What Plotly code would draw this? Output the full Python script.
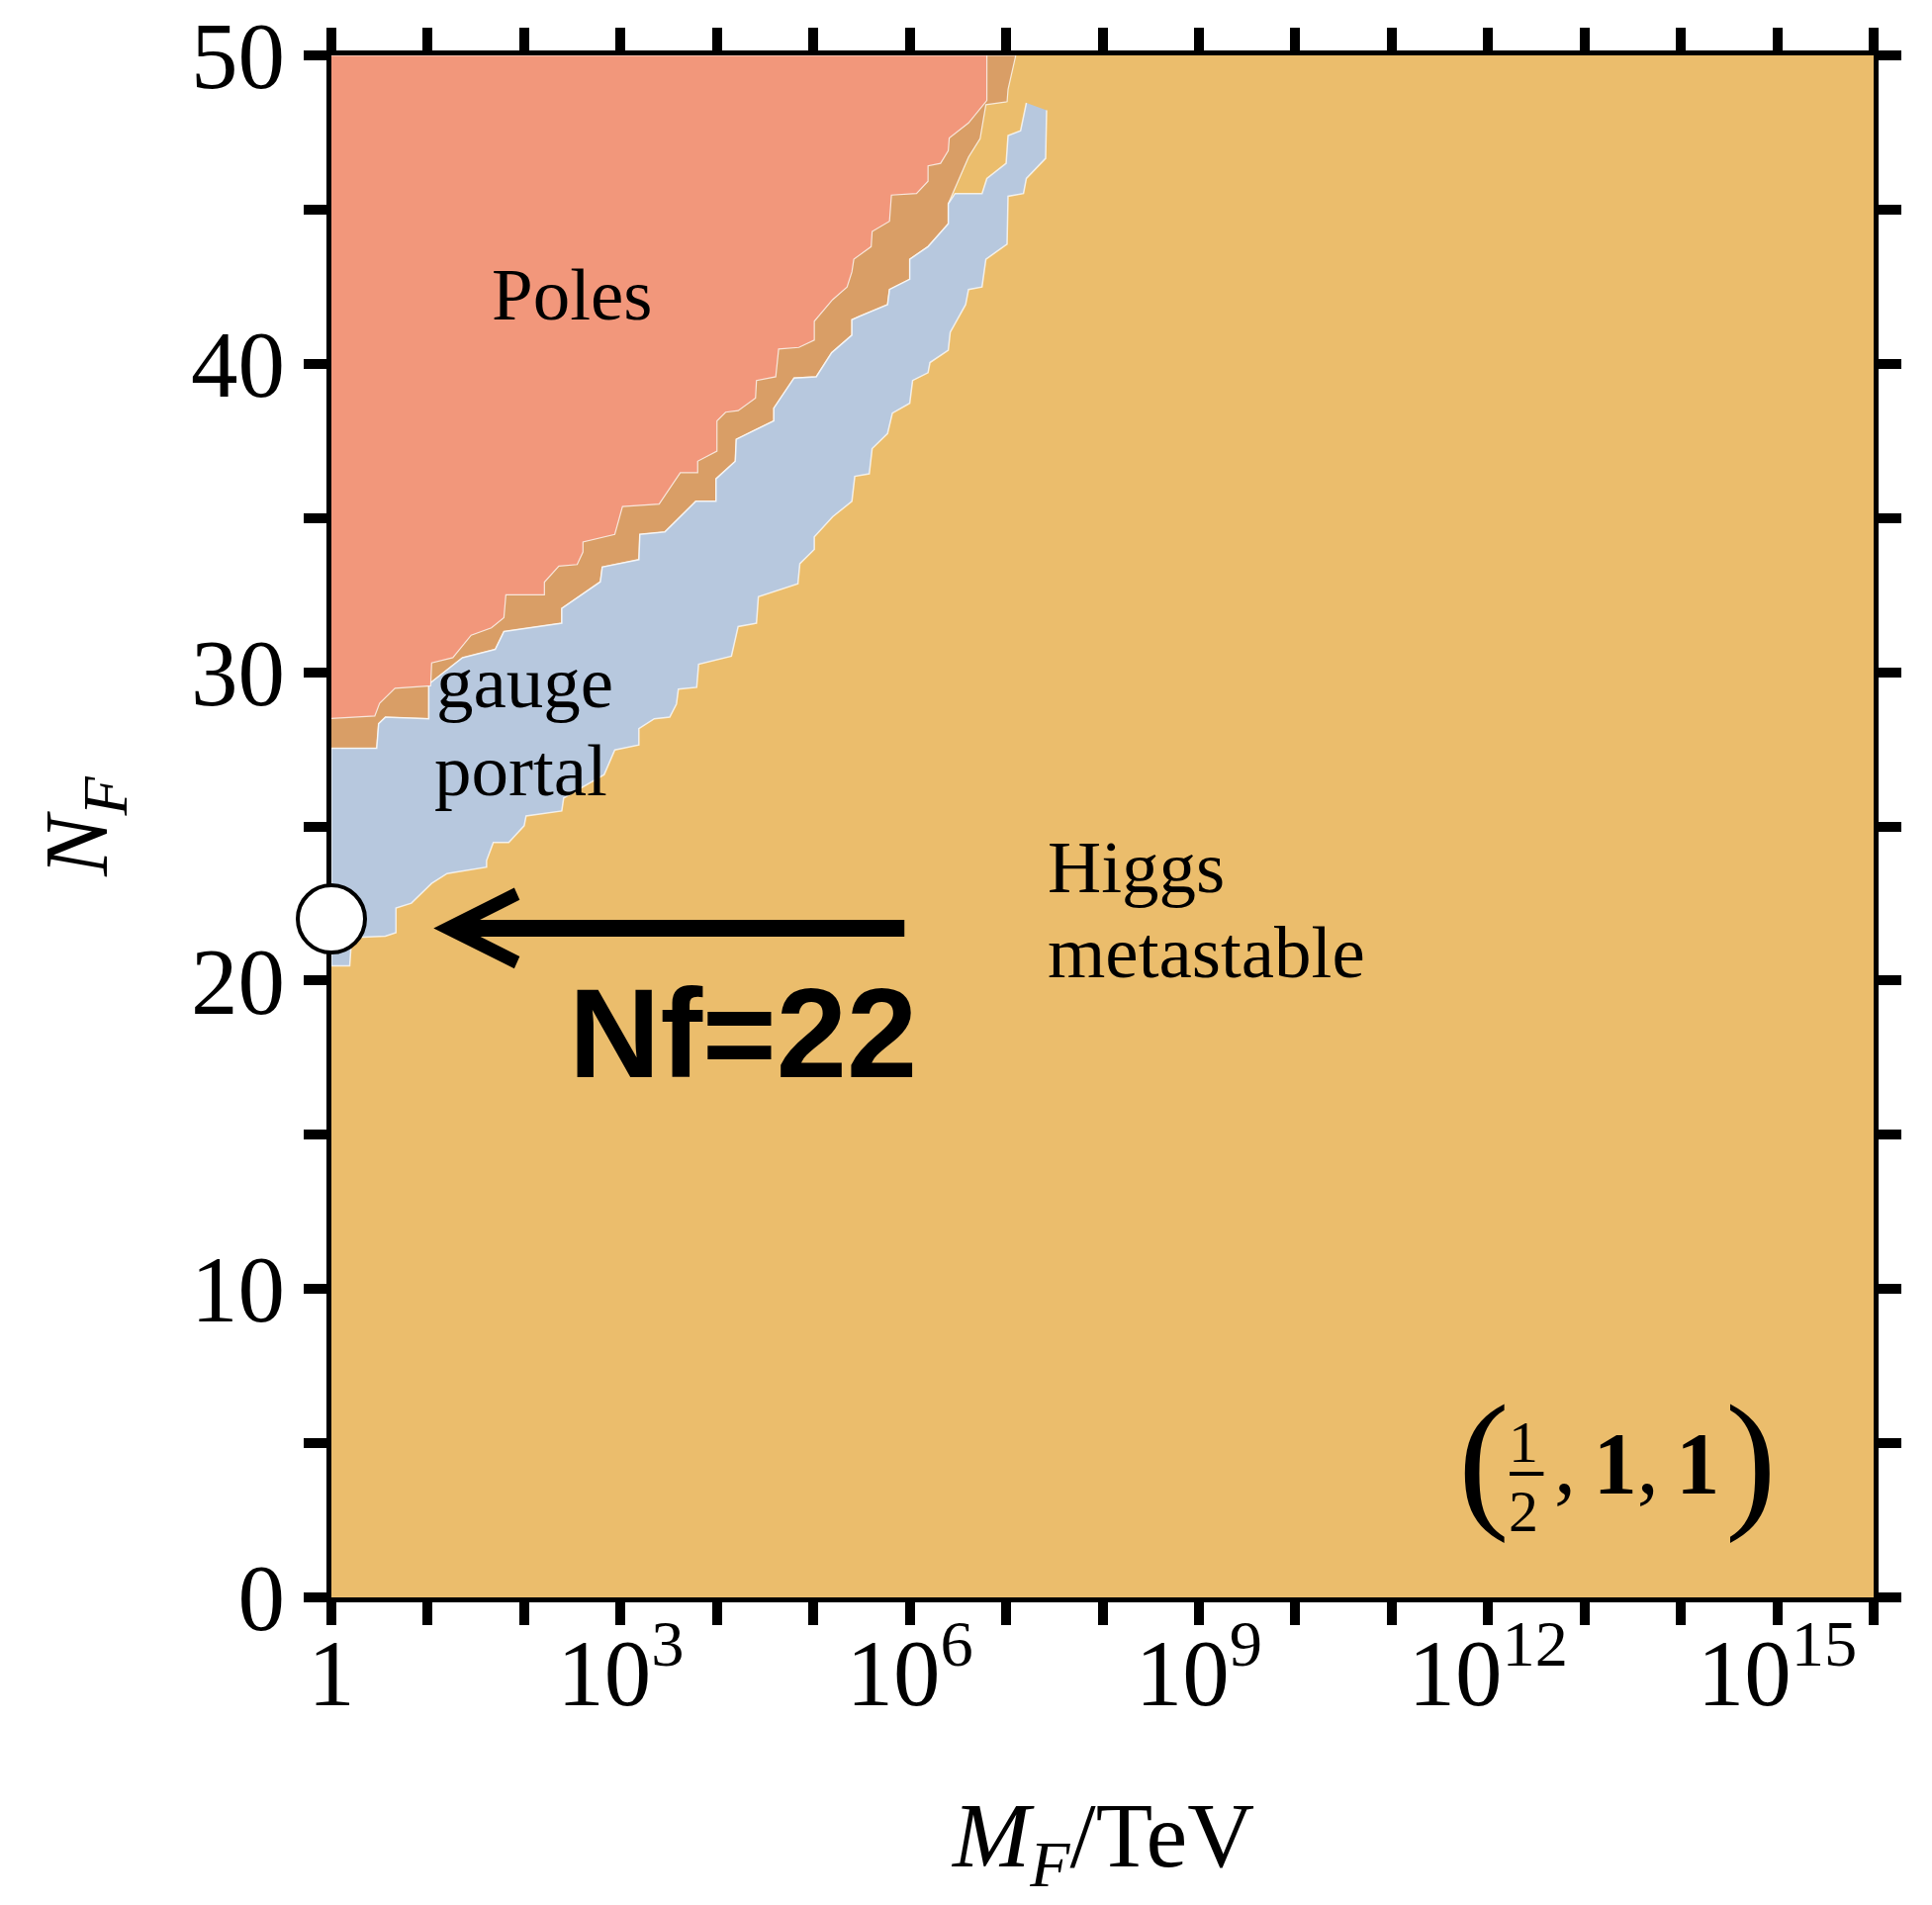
import plotly.graph_objects as go

# ---------------- axes ----------------
X_RANGE_LOG = [0, 16]          # log10(M_F / TeV)
Y_RANGE = [0, 50]              # N_F

x_label_exponents = [0, 3, 6, 9, 12, 15]
x_tick_labels = ["1", "10<sup>3</sup>", "10<sup>6</sup>", "10<sup>9</sup>",
                 "10<sup>12</sup>", "10<sup>15</sup>"]
x_minor_exponents = [1, 2, 4, 5, 7, 8, 10, 11, 13, 14, 16]
y_label_values = [0, 10, 20, 30, 40, 50]
y_tick_labels = ["0", "10", "20", "30", "40", "50"]
y_minor_values = [5, 15, 25, 35, 45]
x_title = "<i>M</i><sub><i>F</i></sub>/TeV"
y_title = "<i>N</i><sub><i>F</i></sub>"

# ---------------- region boundaries (log10 M_F/TeV , N_F) ----------------
# "Poles": lower edge of the pole region, from the top edge down to the left edge
poles_logM = [6.80, 6.80, 6.61, 6.41, 6.40, 6.32, 6.19, 6.19, 6.07, 5.81, 5.79, 5.61, 5.60,
              5.42, 5.40, 5.35, 5.20, 5.01, 5.01, 4.85, 4.64, 4.61, 4.41, 4.40, 4.22, 4.09,
              4.00, 4.00, 3.80, 3.80, 3.62, 3.40, 3.02, 2.94, 2.61, 2.61, 2.55, 2.36, 2.21,
              2.21, 1.81, 1.79, 1.66, 1.45, 1.26, 1.04, 1.03, 0.66, 0.50, 0.45, 0.00]
poles_N = [50.0, 48.54, 47.81, 47.32, 46.91, 46.50, 46.42, 45.92, 45.52, 45.47, 44.62, 44.29,
           43.80, 43.39, 42.98, 42.49, 42.08, 41.38, 40.77, 40.53, 40.48, 39.58, 39.46, 38.89,
           38.48, 38.43, 38.15, 37.17, 36.84, 36.47, 36.47, 35.45, 35.37, 34.47, 34.22, 33.90,
           33.49, 33.44, 32.92, 32.51, 32.51, 31.77, 31.44, 31.20, 30.47, 30.30, 29.56, 29.48,
           28.99, 28.58, 28.50]

# overlap band (poles + gauge portal): its lower edge, top edge -> left edge
band_logM = [7.10, 7.02, 7.01, 6.79, 6.73, 6.61, 6.40, 6.40, 6.19, 6.00, 6.00, 5.79, 5.77,
             5.48, 5.40, 5.40, 5.19, 5.03, 4.80, 4.59, 4.59, 4.20, 4.19, 3.99, 3.99, 3.78,
             3.46, 3.20, 3.19, 2.81, 2.79, 2.39, 2.39, 1.79, 1.70, 1.36, 1.01, 1.01, 0.56,
             0.49, 0.47, 0.00]
band_N = [50.0, 48.9, 48.5, 48.4, 47.3, 46.7, 45.19, 44.54, 43.80, 43.39, 42.74, 42.41, 41.92,
          41.54, 41.43, 40.93, 40.36, 39.58, 39.54, 38.56, 38.15, 37.55, 36.84, 36.27, 35.54,
          35.54, 34.55, 34.47, 33.65, 33.41, 32.93, 32.07, 31.59, 31.32, 30.74, 30.47, 29.61,
          28.49, 28.54, 28.33, 27.53, 27.53]

# "gauge portal": upper edge (top -> left) and lower edge (left -> top)
gauge_upper_logM = [7.21, 7.15, 7.02, 7.00, 6.80, 6.75, 6.47, 6.40, 6.40, 6.19, 6.00, 6.00,
                    5.79, 5.77, 5.48, 5.40, 5.40, 5.19, 5.03, 4.80, 4.59, 4.59, 4.20, 4.19,
                    3.99, 3.99, 3.78, 3.46, 3.20, 3.19, 2.81, 2.79, 2.39, 2.39, 1.79, 1.70,
                    1.36, 1.01, 1.01, 0.56, 0.49, 0.47, 0.00]
gauge_upper_N = [48.46, 47.56, 47.40, 46.50, 46.01, 45.52, 45.52, 45.19, 44.54, 43.80, 43.39,
                 42.74, 42.41, 41.92, 41.54, 41.43, 40.93, 40.36, 39.58, 39.54, 38.56, 38.15,
                 37.55, 36.84, 36.27, 35.54, 35.54, 34.55, 34.47, 33.65, 33.41, 32.93, 32.07,
                 31.59, 31.32, 30.74, 30.47, 29.61, 28.49, 28.54, 28.33, 27.53, 27.53]
gauge_lower_logM = [0.00, 0.19, 0.21, 0.56, 0.67, 0.67, 0.83, 1.04, 1.20, 1.29, 1.61, 1.61,
                    1.68, 1.84, 2.00, 2.02, 2.39, 2.41, 2.83, 2.94, 3.19, 3.19, 3.35, 3.51,
                    3.58, 3.60, 3.79, 3.81, 4.15, 4.22, 4.41, 4.43, 4.84, 4.86, 5.01, 5.01,
                    5.20, 5.40, 5.43, 5.58, 5.61, 5.77, 5.82, 6.00, 6.03, 6.19, 6.21, 6.40,
                    6.42, 6.58, 6.61, 6.75, 6.79, 7.01, 7.02, 7.18, 7.21, 7.41, 7.42]
gauge_lower_N = [20.48, 20.48, 21.39, 21.44, 21.55, 22.35, 22.51, 23.15, 23.47, 23.52, 23.68,
                 23.89, 24.48, 24.48, 25.02, 25.34, 25.50, 25.92, 26.68, 27.48, 27.64, 28.17,
                 28.49, 28.54, 28.97, 29.45, 29.51, 30.26, 30.52, 31.48, 31.59, 32.45, 32.87,
                 33.52, 33.98, 34.39, 35.04, 35.54, 36.35, 36.43, 37.25, 37.74, 38.40, 38.72,
                 39.46, 39.71, 40.04, 40.44, 41.02, 41.92, 42.41, 42.49, 43.39, 43.88, 45.43,
                 45.52, 46.01, 46.66, 48.22]

# highlighted benchmark
highlight_M = 1.0
highlight_Nf = 22
arrow_tip_logM = 1.06
arrow_tail_logM = 5.96
arrow_N = 21.7

# ---------------- colours ----------------
C_HIGGS = "#EBBD6C"
C_POLES = "#F2977B"
C_GAUGE = "#B7C8DE"
C_BAND = "#D99E66"
EDGE = "rgba(255,255,255,0.75)"

SERIF = "Liberation Serif"
SANS = "Liberation Sans"


def to_M(logs):
    return [10 ** v for v in logs]


fig = go.Figure()

# overlap band (drawn first, partly covered by poles and gauge portal)
fig.add_trace(go.Scatter(
    x=to_M([X_RANGE_LOG[0]] + band_logM), y=[Y_RANGE[1]] + band_N,
    fill="toself", fillcolor=C_BAND, mode="lines",
    line=dict(color=EDGE, width=1.2), hoverinfo="skip", showlegend=False))

# gauge portal
fig.add_trace(go.Scatter(
    x=to_M(gauge_upper_logM + gauge_lower_logM), y=gauge_upper_N + gauge_lower_N,
    fill="toself", fillcolor=C_GAUGE, mode="lines",
    line=dict(color=EDGE, width=1.5), hoverinfo="skip", showlegend=False))

# poles
fig.add_trace(go.Scatter(
    x=to_M([X_RANGE_LOG[0]] + poles_logM), y=[Y_RANGE[1]] + poles_N,
    fill="toself", fillcolor=C_POLES, mode="lines",
    line=dict(color=EDGE, width=1.2), hoverinfo="skip", showlegend=False))

# benchmark point
fig.add_trace(go.Scatter(
    x=[highlight_M], y=[highlight_Nf], mode="markers",
    marker=dict(size=68, color="white", line=dict(color="black", width=4)),
    cliponaxis=False, hoverinfo="skip", showlegend=False))

TL, TW = 23, 10
tick_font = dict(family=SERIF, size=95, color="black")
common_x = dict(type="log", range=X_RANGE_LOG, tickmode="array",
                tickvals=[10 ** k for k in x_label_exponents],
                ticklen=TL, tickwidth=TW, tickcolor="black",
                minor=dict(tickmode="array", tickvals=[10 ** k for k in x_minor_exponents],
                           ticklen=TL, tickwidth=TW, tickcolor="black", showgrid=False),
                showgrid=False, zeroline=False, automargin=False)
common_y = dict(range=Y_RANGE, tickmode="array", tickvals=y_label_values,
                ticklen=TL, tickwidth=TW, tickcolor="black",
                minor=dict(tickmode="array", tickvals=y_minor_values,
                           ticklen=TL, tickwidth=TW, tickcolor="black", showgrid=False),
                showgrid=False, zeroline=False, automargin=False)

fig.update_layout(
    width=1953, height=1926,
    margin=dict(l=335, r=59, t=56, b=311),
    paper_bgcolor="white", plot_bgcolor=C_HIGGS,
    showlegend=False,
    xaxis=dict(**common_x, ticktext=x_tick_labels, ticks="outside", mirror="ticks",
               showline=True, linewidth=5, linecolor="black", layer="below traces",
               tickfont=tick_font, ticklabelstandoff=-33),
    yaxis=dict(**common_y, ticktext=y_tick_labels, ticks="outside", mirror="ticks",
               showline=True, linewidth=5, linecolor="black", layer="below traces",
               tickfont=tick_font, ticklabelstandoff=0,
               title=dict(text=y_title,
                          font=dict(family=SERIF, size=92, color="black"), standoff=55)),
    xaxis2=dict(**common_x, overlaying="x", anchor="y2", side="bottom", ticks="inside",
                mirror="ticks", showline=False, showticklabels=False, layer="above traces"),
    yaxis2=dict(**common_y, overlaying="y", anchor="x2", side="left", ticks="inside",
                mirror="ticks", showline=False, showticklabels=False, layer="above traces"),
)
fig.update_layout(xaxis2_minor_ticks="inside", yaxis2_minor_ticks="inside",
                  xaxis_minor_ticks="outside", yaxis_minor_ticks="outside")

# x-axis title (placed as an annotation so it can sit low in the bottom margin)
fig.add_annotation(xref="paper", yref="paper", x=0.5, y=-0.1195, text=x_title,
                   showarrow=False, xanchor="center", yanchor="top",
                   font=dict(family=SERIF, size=94, color="black"))

label_font = dict(family=SERIF, size=75, color="black")
annotations = [
    dict(x=2.494, y=42.24, text="Poles", xanchor="center"),
    dict(x=1.07, y=29.67, text="gauge", xanchor="left"),
    dict(x=1.05, y=26.84, text="portal", xanchor="left"),
    dict(x=7.41, y=23.67, text="Higgs", xanchor="left"),
    dict(x=7.41, y=20.94, text="metastable", xanchor="left"),
]
for a in annotations:
    fig.add_annotation(xref="x", yref="y", yanchor="middle", showarrow=False,
                       font=label_font, **a)

# arrow pointing at the benchmark
fig.add_annotation(xref="x", yref="y", axref="x", ayref="y",
                   x=arrow_tip_logM, y=arrow_N, ax=arrow_tail_logM, ay=arrow_N,
                   text="", showarrow=True, arrowhead=5, arrowwidth=17,
                   arrowsize=0.8, arrowcolor="black")
fig.add_annotation(xref="x", yref="y", x=4.27, y=18.31, text="<b>Nf=22</b>",
                   showarrow=False, xanchor="center", yanchor="middle",
                   font=dict(family=SANS, size=128, color="black"))

# representation label (1/2, 1, 1)
fig.add_annotation(xref="x", yref="y", x=11.96, y=4.49, text="(", showarrow=False,
                   xanchor="center", yanchor="middle",
                   font=dict(family=SERIF, size=155, color="black"))
fig.add_annotation(xref="x", yref="y", x=14.73, y=4.49, text=")", showarrow=False,
                   xanchor="center", yanchor="middle",
                   font=dict(family=SERIF, size=155, color="black"))
fig.add_annotation(xref="x", yref="y", x=12.37, y=5.04, text="1", showarrow=False,
                   xanchor="center", yanchor="middle",
                   font=dict(family=SERIF, size=60, color="black"))
fig.add_annotation(xref="x", yref="y", x=12.37, y=2.79, text="2", showarrow=False,
                   xanchor="center", yanchor="middle",
                   font=dict(family=SERIF, size=60, color="black"))
fig.add_annotation(xref="x", yref="y", x=12.66, y=4.35,
                   text=",&#8201;<b>1</b>,&#8201;<b>1</b>",
                   showarrow=False, xanchor="left", yanchor="middle",
                   font=dict(family=SERIF, size=88, color="black"))
fig.add_shape(type="line", xref="paper", yref="paper",
              x0=0.764, x1=0.786, y0=0.0802, y1=0.0802,
              line=dict(color="black", width=4))

fig.write_html("out.html")
